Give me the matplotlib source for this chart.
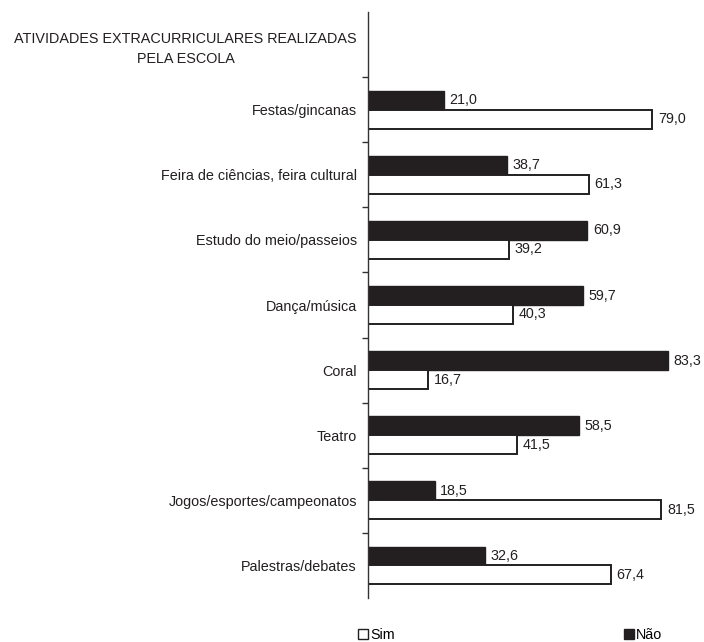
import matplotlib.pyplot as plt
from matplotlib.patches import Patch
from matplotlib.ticker import FixedLocator

plt.rcParams['font.family'] = ['Liberation Sans', 'DejaVu Sans']

# data (percent), top to bottom
title_label = "ATIVIDADES EXTRACURRICULARES REALIZADAS\nPELA ESCOLA"
categories = ["Festas/gincanas", "Feira de ciências, feira cultural",
              "Estudo do meio/passeios", "Dança/música", "Coral", "Teatro",
              "Jogos/esportes/campeonatos", "Palestras/debates"]
nao = [21.0, 38.7, 60.9, 59.7, 83.3, 58.5, 18.5, 32.6]
sim = [79.0, 61.3, 39.2, 40.3, 16.7, 41.5, 81.5, 67.4]

fig = plt.figure(figsize=(7.04, 6.42), dpi=100)
ax = fig.add_axes([368 / 704, 44 / 642, 324 / 704, 586 / 642])

h = 0.29
pos = list(range(1, len(categories) + 1))
ax.barh([p - h / 2 for p in pos], nao, height=h, color="#231f20",
        edgecolor="#231f20", linewidth=1)
ax.barh([p + h / 2 for p in pos], sim, height=h, color="white",
        edgecolor="#231f20", linewidth=1.4)

def fmt(v):
    return f"{v:.1f}".replace(".", ",")

for p, a, b in zip(pos, nao, sim):
    ax.annotate(fmt(a), (a, p - h / 2), xytext=(4, 0), textcoords="offset points",
                va="center", ha="left", fontsize=10.3, color="#231f20")
    ax.annotate(fmt(b), (b, p + h / 2), xytext=(4, 0), textcoords="offset points",
                va="center", ha="left", fontsize=10.3, color="#231f20")

ax.set_xlim(0, 90)
ax.set_ylim(len(categories) + 0.5, -0.5)

ax.set_yticks([0] + pos)
ax.set_yticklabels([title_label] + categories, fontsize=10.4, color="#231f20",
                   multialignment="center", linespacing=1.55)
ax.tick_params(axis="y", which="major", length=0, pad=8)
ax.yaxis.set_minor_locator(FixedLocator([i + 0.5 for i in range(len(categories))]))
ax.tick_params(axis="y", which="minor", length=4, width=1, color="#333333")
ax.set_xticks([])

for s in ["top", "right", "bottom"]:
    ax.spines[s].set_visible(False)
ax.spines["left"].set_color("#333333")
ax.spines["left"].set_linewidth(1)

handles = [Patch(facecolor="white", edgecolor="#231f20", linewidth=1, label="Sim"),
           Patch(facecolor="#231f20", edgecolor="#231f20", label="Não")]
fig.legend(handles=handles, ncol=2, loc="center left",
           bbox_to_anchor=(358 / 704, 7 / 642), frameon=False, fontsize=10.3,
           handlelength=0.7, handleheight=0.7, handletextpad=0.15,
           columnspacing=16.0, borderpad=0, borderaxespad=0)

plt.savefig("out.png", dpi=100)
